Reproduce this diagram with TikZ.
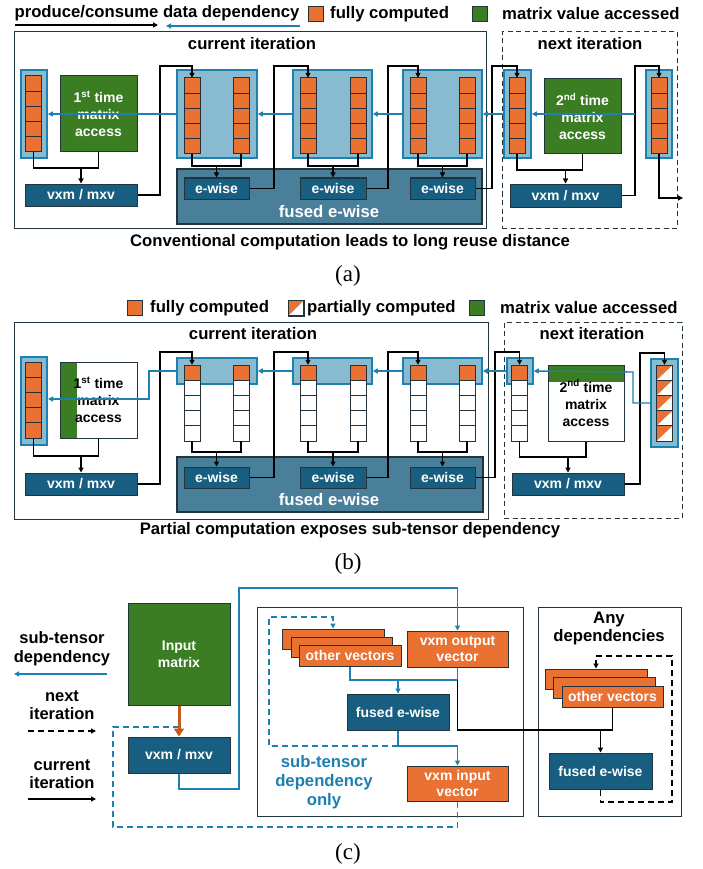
\documentclass[tikz,border=0pt]{standalone}
\usepackage{fontspec}
\setmainfont{Liberation Sans}
\newfontfamily\seriffont{Liberation Serif}
\usetikzlibrary{arrows.meta}
\definecolor{orng}{HTML}{E97132}
\definecolor{grn}{HTML}{3B7D23}
\definecolor{dblue}{HTML}{175E80}
\definecolor{hlf}{HTML}{88BBD0}
\definecolor{hlb}{HTML}{1C80B0}
\definecolor{fusedf}{HTML}{4A7F9A}
\definecolor{lblue}{HTML}{1E80B0}
\definecolor{frm}{HTML}{24343E}
\definecolor{cellb}{HTML}{25313A}
\definecolor{rust}{HTML}{C55A1E}
\tikzset{
  conn/.style={line width=1.4pt, draw=black},
  arr/.style={conn, -{Triangle[length=5pt,width=5pt]}},
  bconn/.style={line width=1.4pt, draw=lblue},
  barr/.style={bconn, -{Triangle[length=5pt,width=5pt]}},
  frame/.style={draw=frm, line width=1pt, inner sep=0},
  dframe/.style={draw=frm, line width=1pt, dash pattern=on 5pt off 3.5pt, inner sep=0},
  hl/.style={draw=hlb, fill=hlf, line width=1.5pt, inner sep=0},
  fusedst/.style={draw=frm, fill=fusedf, line width=1.2pt, inner sep=0},
  dbox/.style={draw=frm, fill=dblue, line width=1pt, text=white, font=\bfseries\fontsize{14}{16.5}\selectfont, inner sep=0, align=center},
  gbox/.style={draw=frm, fill=grn, line width=1pt, text=white, font=\bfseries\fontsize{14}{17}\selectfont, inner sep=0, align=center},
  tbox/.style={draw=frm, line width=1pt, text=black, font=\bfseries\fontsize{14}{17}\selectfont, inner sep=0, align=center},
  obox/.style={draw=frm, fill=orng, line width=1pt, text=white, font=\bfseries\fontsize{14}{16.5}\selectfont, inner sep=0, align=center},
  sq/.style={draw=frm, line width=1pt, minimum width=15pt, minimum height=15pt, inner sep=0},
  cellst/.style={draw=cellb, line width=1pt},
  colst/.style={minimum width=16pt, minimum height=76pt, inner sep=0},
  T/.style={font=\bfseries\fontsize{16.7}{19}\selectfont, inner sep=0},
  T2/.style={font=\bfseries\fontsize{16.5}{18.5}\selectfont, inner sep=0, align=center},
  W/.style={font=\bfseries\fontsize{16.7}{19}\selectfont, text=white, inner sep=0},
  captext/.style={font=\seriffont\fontsize{23}{25}\selectfont, inner sep=0},
  bdash/.style={line width=1.4pt, draw=lblue, dash pattern=on 6pt off 4pt},
  kdash/.style={line width=1.4pt, draw=black, dash pattern=on 6pt off 4pt},
}
\newcommand\bx[7]{\node[#6, minimum width={(#4)-(#2)}, minimum height={(#5)-(#3)}] (#1) at ({((#2)+(#4))/2},{((#3)+(#5))/2}) {#7};}
\newcommand\vcolF[3]{%
  \node[colst] (#1) at (#2,{#3+38}) {};
  \foreach \i in {0,...,4}{\draw[cellst,fill=orng] ({#2-8},{#3+\i*15.2}) rectangle ({#2+8},{#3+(\i+1)*15.2});}%
}
\newcommand\vcolP[3]{%
  \node[colst] (#1) at (#2,{#3+38}) {};
  \draw[cellst,fill=orng] ({#2-8},{#3}) rectangle ({#2+8},{#3+15.2});
  \foreach \i in {1,...,4}{\draw[cellst,fill=white] ({#2-8},{#3+\i*15.2}) rectangle ({#2+8},{#3+(\i+1)*15.2});}%
}
\newcommand\vcolH[3]{%
  \node[colst] (#1) at (#2,{#3+38}) {};
  \foreach \i in {0,...,4}{%
    \fill[white] ({#2-8},{#3+\i*15.2}) rectangle ({#2+8},{#3+(\i+1)*15.2});
    \fill[orng] ({#2-8},{#3+\i*15.2}) -- ({#2+8},{#3+\i*15.2}) -- ({#2-8},{#3+(\i+1)*15.2}) -- cycle;
    \draw[cellst] ({#2-8},{#3+\i*15.2}) rectangle ({#2+8},{#3+(\i+1)*15.2});}%
}
\begin{document}
\begin{tikzpicture}[x=1pt,y=-1pt]
\useasboundingbox (0,0) rectangle (702,869);
\fill[white] (0,0) rectangle (702,869);

%%%%%%%%%%%%%%%% (a) %%%%%%%%%%%%%%%%
\node[T] (lgtxt) at (157,13) {produce/consume data dependency};
\coordinate (lgA1) at (15,25); \coordinate (lgA2) at (158,25);
\draw[arr] (lgA1) -- (lgA2);
\coordinate (lgB1) at (300,26); \coordinate (lgB2) at (166,26);
\draw[barr] (lgB1) -- (lgB2);
\node[sq, fill=orng] (lgO) at (315.5,14.5) {};
\node[T, anchor=west] (lgOt) at (330,14) {fully computed};
\node[sq, fill=grn] (lgG) at (479.5,14.5) {};
\node[T, anchor=west] (lgGt) at (502,14) {matrix value accessed};

\bx{curA}{14}{32}{486}{228}{frame}{}
\bx{nxtA}{502}{32}{677}{228}{dframe}{}
\node[T] (curAt) at (252,44) {current iteration};
\node[T] (nxtAt) at (590,44) {next iteration};

% left vector + green + vxm
\bx{hA0}{21}{70}{47}{158}{hl}{}
\vcolF{a0}{33.5}{76}
\bx{gA1}{60}{76}{137}{152}{gbox}{1\textsuperscript{st} time\\matrix\\access}
\bx{vA1}{25}{184}{137}{206}{dbox}{vxm / mxv}
% fused
\bx{fA}{177}{169}{482}{224}{fusedst}{}
\node[W] (fAt) at (329,212) {fused e-wise};
\bx{eA1}{184}{178}{249}{199}{dbox}{e-wise}
\bx{eA2}{300}{178}{366}{199}{dbox}{e-wise}
\bx{eA3}{410}{178}{475}{199}{dbox}{e-wise}
% groups
\bx{hA1}{177}{70}{257}{158}{hl}{}
\bx{hA2}{293}{70}{372}{158}{hl}{}
\bx{hA3}{403}{70}{482}{158}{hl}{}
\vcolF{a11}{192}{78}\vcolF{a12}{241}{78}
\vcolF{a21}{308}{78}\vcolF{a22}{358}{78}
\vcolF{a31}{418}{78}\vcolF{a32}{467}{78}
% next
\bx{hAn}{504}{70}{531}{158}{hl}{}
\vcolF{an}{517}{78}
\bx{gA2}{544}{79}{621}{154}{gbox}{2\textsuperscript{nd} time\\matrix\\access}
\bx{vA2}{510}{184}{621}{207}{dbox}{vxm / mxv}
\bx{hAr}{646}{70}{672}{158}{hl}{}
\vcolF{ar}{659}{78}

% black connectors (a)
\coordinate (jA0) at (81,168);
\draw[conn] (a0.south) |- (jA0) -| (gA1.south);
\draw[arr] (jA0) -- (vA1.north);
\coordinate (tA0) at (160,66);
\draw[arr] (vA1.east) -| (tA0) -| (a11.north);
\coordinate (jA1) at (216.5,166);
\draw[conn] (a11.south) |- (jA1) -| (a12.south);
\draw[arr] (jA1) -- (eA1.north);
\coordinate (jA2) at (333,166);
\draw[conn] (a21.south) |- (jA2) -| (a22.south);
\draw[arr] (jA2) -- (eA2.north);
\coordinate (jA3) at (442.5,166);
\draw[conn] (a31.south) |- (jA3) -| (a32.south);
\draw[arr] (jA3) -- (eA3.north);
\coordinate (tA1) at (274,66);
\draw[arr] (eA1.east) -| (tA1) -| (a21.north);
\coordinate (tA2) at (388,66);
\draw[arr] (eA2.east) -| (tA2) -| (a31.north);
\coordinate (tA3) at (492,66);
\draw[arr] (eA3.east) -| (tA3) -| (an.north);
\coordinate (jA4) at (565.5,170);
\draw[conn] (an.south) |- (jA4) -| (gA2.south);
\draw[arr] (jA4) -- (vA2.north);
\coordinate (tA4) at (635,66);
\draw[arr] (vA2.east) -| (tA4) -| (ar.north);
\coordinate (eAo) at (683,198);
\draw[arr] (ar.south) |- (eAo);

% blue connectors (a)
\draw[barr] ([xshift=-10pt]hAr.west) -- (hAn.east);
\draw[barr] (hAn.west) -- (hA3.east);
\draw[barr] (hA3.west) -- (hA2.east);
\draw[barr] (hA2.west) -- (hA1.east);
\draw[barr] (hA1.west) -- (hA0.east);

\node[T] (capA) at (350,242) {Conventional computation leads to long reuse distance};
\node[captext] (labA) at (348,276) {(a)};

%%%%%%%%%%%%%%%% (b) %%%%%%%%%%%%%%%%
\node[sq, fill=orng] (lbO) at (134.5,308) {};
\node[T, anchor=west] (lbOt) at (150,308) {fully computed};
\node[sq] (lbP) at (296,308) {};
\fill[orng] (288.5,300.5) -- (303.5,300.5) -- (288.5,315.5) -- cycle;
\draw[draw=frm, line width=1pt] (lbP.north west) rectangle (lbP.south east);
\node[T, anchor=west] (lbPt) at (307,308) {partially computed};
\node[sq, fill=grn] (lbG) at (477,308) {};
\node[T, anchor=west] (lbGt) at (500,308) {matrix value accessed};

\bx{curB}{14}{322}{488}{519}{frame}{}
\bx{nxtB}{504}{322}{682}{518}{dframe}{}
\node[T] (curBt) at (253,334) {current iteration};
\node[T] (nxtBt) at (592,334) {next iteration};

\bx{hB0}{21}{357}{47}{445}{hl}{}
\vcolF{b0}{33.5}{362}
\fill[white] (60,362) rectangle (137,438);
\fill[grn] (60,362) rectangle (77,438);
\bx{gB1}{60}{362}{137}{438}{tbox}{1\textsuperscript{st} time\\matrix\\access}
\bx{vB1}{25}{473}{137}{495}{dbox}{vxm / mxv}

\bx{fB}{177}{457}{483}{512}{fusedst}{}
\node[W] (fBt) at (329,500) {fused e-wise};
\bx{eB1}{184}{467}{249}{488}{dbox}{e-wise}
\bx{eB2}{300}{467}{366}{488}{dbox}{e-wise}
\bx{eB3}{410}{467}{475}{488}{dbox}{e-wise}
\bx{hB1}{177}{358}{257}{384}{hl}{}
\bx{hB2}{293}{358}{372}{384}{hl}{}
\bx{hB3}{403}{358}{482}{384}{hl}{}
\vcolP{b11}{192}{365}\vcolP{b12}{241}{365}
\vcolP{b21}{308}{365}\vcolP{b22}{358}{365}
\vcolP{b31}{418}{365}\vcolP{b32}{467}{365}

\bx{hBn}{507}{358}{533}{384}{hl}{}
\vcolP{bn}{519.5}{365}
\fill[white] (548,365) rectangle (624,441);
\fill[grn] (548,365) rectangle (624,382);
\bx{gB2}{548}{365}{624}{441}{tbox}{2\textsuperscript{nd} time\\matrix\\access}
\bx{vB2}{512}{473}{624}{495}{dbox}{vxm / mxv}
\bx{hBr}{651}{359}{678}{447}{hl}{}
\vcolH{br}{664.5}{365}

% black connectors (b)
\coordinate (jB0) at (81,456);
\draw[conn] (b0.south) |- (jB0) -| (gB1.south);
\draw[arr] (jB0) -- (vB1.north);
\coordinate (tB0) at (160,352);
\draw[arr] (vB1.east) -| (tB0) -| (b11.north);
\coordinate (jB1) at (216.5,452);
\draw[conn] (b11.south) |- (jB1) -| (b12.south);
\draw[arr] (jB1) -- (eB1.north);
\coordinate (jB2) at (333,452);
\draw[conn] (b21.south) |- (jB2) -| (b22.south);
\draw[arr] (jB2) -- (eB2.north);
\coordinate (jB3) at (442.5,452);
\draw[conn] (b31.south) |- (jB3) -| (b32.south);
\draw[arr] (jB3) -- (eB3.north);
\coordinate (tB1) at (274,352);
\draw[arr] (eB1.east) -| (tB1) -| (b21.north);
\coordinate (tB2) at (388,352);
\draw[arr] (eB2.east) -| (tB2) -| (b31.north);
\coordinate (tB3) at (495,352);
\draw[arr] (eB3.east) -| (tB3) -| (bn.north);
\coordinate (jB4) at (568,457);
\draw[conn] (bn.south) |- (jB4) -| (gB2.south);
\draw[arr] (jB4) -- (vB2.north);
\coordinate (tB4) at (640,353);
\draw[arr] (vB2.east) -| (tB4) -| (br.north);

% blue connectors (b)
\coordinate (kB1) at (633,403);
\coordinate (kB2) at (633,372);
\draw[barr] (hBr.west |- kB1) -- (kB1) -- (kB2) -- (hBn.east);
\draw[barr] (hBn.west) -- (hB3.east);
\draw[barr] (hB3.west) -- (hB2.east);
\draw[barr] (hB2.west) -- (hB1.east);
\coordinate (kB3) at (149,371);
\coordinate (kB4) at (149,399);
\coordinate (kB5) at (48,399);
\draw[barr] (hB1.west) -- (kB3) -- (kB4) -- (kB5);

\node[T] (capB) at (350,530) {Partial computation exposes sub-tensor dependency};
\node[captext] (labB) at (348,564) {(b)};

%%%%%%%%%%%%%%%% (c) %%%%%%%%%%%%%%%%
\node[T2] (lsub) at (62,648.5) {sub-tensor\\dependency};
\coordinate (ls1) at (107,674); \coordinate (ls2) at (14,674);
\draw[barr] (ls1) -- (ls2);
\node[T2] (lnext) at (62,705) {next\\iteration};
\coordinate (ln1) at (28,731); \coordinate (ln2) at (96,731);
\draw[arr, dash pattern=on 6pt off 4pt] (ln1) -- (ln2);
\node[T2] (lcur) at (62,774) {current\\iteration};
\coordinate (lc1) at (28,799); \coordinate (lc2) at (96,799);
\draw[arr] (lc1) -- (lc2);

\bx{midC}{257}{607}{523}{816}{frame}{}
\bx{rgtC}{538}{607}{681}{816}{frame}{}

\bx{inm}{128}{603}{230}{705}{gbox}{Input\\matrix}
\bx{vxc}{128}{737}{230}{773}{dbox}{vxm / mxv}
\draw[line width=3pt, draw=rust, -{Triangle[length=8pt,width=10pt]}] (inm.south) -- (vxc.north);

\bx{ov1}{282}{629}{384}{649}{obox}{}
\bx{ov2}{291}{637}{392}{657}{obox}{}
\bx{ov3}{299}{645}{401}{666}{obox}{other vectors}
\bx{vo}{407}{631}{508}{667}{obox}{vxm output\\vector}
\bx{fe}{347}{694}{449}{730}{dbox}{fused e-wise}
\bx{vi}{407}{766}{508}{801}{obox}{vxm input\\vector}
\node[T, text=lblue, align=center, font=\bfseries\fontsize{16.7}{19}\selectfont] (sto) at (324,782) {sub-tensor\\dependency\\only};

\node[T, align=center, font=\bfseries\fontsize{16.7}{18}\selectfont] (anyd) at (609,628) {Any\\dependencies};
\bx{rv1}{545}{669}{647}{689}{obox}{}
\bx{rv2}{553}{677}{655}{698}{obox}{}
\bx{rv3}{562}{686}{663}{707}{obox}{other vectors}
\bx{fr}{549}{753}{652}{789}{dbox}{fused e-wise}

% blue connectors (c)
\coordinate (cb1) at (239,789);
\coordinate (cb2) at (239,588);
\draw[barr] (vxc.south) |- (cb1) -- (cb2) -| (vo.north);
\coordinate (cj) at (398,680);
\draw[bconn] (ov3.south) |- (cj) -| (vo.south);
\draw[barr] (cj) -- (fe.north);
\coordinate (cj2) at (398,746);
\draw[barr] (fe.south) -- (cj2) -| (vi.north);
\coordinate (cd1) at (269,746);
\coordinate (cd2) at (269,617);
\coordinate (cd3) at (333,617);
\draw[bdash, -{Triangle[length=5pt,width=5pt]}] (cj2) -- (cd1) -- (cd2) -- (cd3) -- (ov1.north -| cd3);
\coordinate (co1) at (457.5,827);
\coordinate (co2) at (113,827);
\coordinate (co3) at (113,727);
\coordinate (co4) at (178,727);
\draw[bdash] (vi.south) -- (co1) -- (co2) -- (co3) -- (co4);

% black connectors (c)
\coordinate (kj) at (600.5,730);
\draw[conn] (cj -| vo.south) |- (kj) -- (rv3.south |- kj) -- (rv3.south);
\draw[arr] (kj) -- (fr.north);
\coordinate (kd1) at (672,802);
\coordinate (kd2) at (672,656);
\coordinate (kd3) at (596,656);
\draw[kdash, -{Triangle[length=5pt,width=5pt]}] (fr.south) |- (kd1) -- (kd2) -- (kd3) -- (rv1.north -| kd3);

\node[captext] (labC) at (348,854) {(c)};
\end{tikzpicture}
\end{document}
